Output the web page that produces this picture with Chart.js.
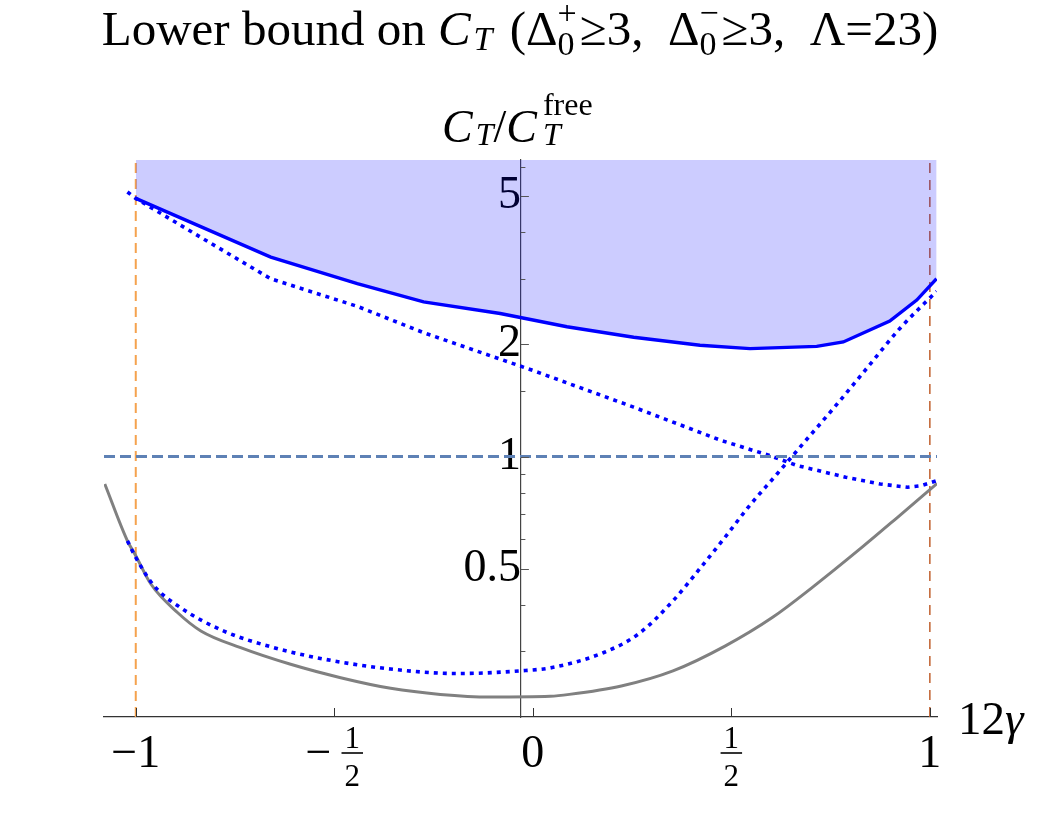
<!DOCTYPE html>
<html>
<head>
<meta charset="utf-8">
<title>Lower bound on C_T</title>
<script src="https://cdn.jsdelivr.net/npm/chart.js@4.4.1/dist/chart.umd.min.js"></script>
<style>
    html, body { margin: 0; padding: 0; background: #fff; }
    #wrap { width: 1042px; height: 823px; }
</style>
</head>
<body>
<div id="wrap"><canvas id="chart" width="1042" height="823"></canvas></div>
<script>
// --- Data (x = 12γ, y = C_T / C_T^free on a log axis) ---

// solid blue bound (region above it is shaded)
const upperX = [-1, -0.66, -0.442, -0.275, -0.082, 0.086, 0.254, 0.421, 0.547, 0.715, 0.782, 0.899, 0.967, 1.017];
const upperY = [4.93, 3.43, 2.91, 2.60, 2.42, 2.23, 2.09, 1.99, 1.948, 1.976, 2.03, 2.31, 2.63, 3.00];

// dotted blue, falling from top-left
const fallX = [-1.021, -1.0, -0.837, -0.66, -0.442, -0.275, 0.002, 0.254, 0.475, 0.597, 0.666, 0.788, 0.875, 0.944, 0.979, 1.018];
const fallY = [5.13, 4.93, 3.88, 3.00, 2.53, 2.15, 1.70, 1.357, 1.104, 1.006, 0.946, 0.880, 0.844, 0.827, 0.836, 0.862];

// dotted blue, U-shaped
const cupX = [-1.021, -1.0, -0.954, -0.887, -0.778, -0.652, -0.526, -0.358, -0.191, -0.031, 0.049, 0.179, 0.266, 0.353, 0.423, 0.484, 0.544, 0.614, 0.681, 0.757, 0.841, 0.925, 1.017];
const cupY = [0.594, 0.536, 0.450, 0.393, 0.340, 0.307, 0.286, 0.269, 0.2616, 0.266, 0.2715, 0.298, 0.334, 0.410, 0.504, 0.607, 0.734, 0.895, 1.084, 1.346, 1.724, 2.21, 2.777];

// gray solid curve
const grayX = [-1.078, -1.021, -1.0, -0.962, -0.895, -0.836, -0.736, -0.610, -0.484, -0.358, -0.233, -0.107, 0.044, 0.092, 0.223, 0.353, 0.484, 0.605, 0.701, 0.831, 0.918, 1.018];
const grayY = [0.844, 0.594, 0.542, 0.455, 0.3815, 0.3404, 0.307, 0.277, 0.255, 0.2388, 0.230, 0.2264, 0.2274, 0.230, 0.2423, 0.266, 0.310, 0.371, 0.443, 0.573, 0.686, 0.846];

const unitLevel = 1;          // dashed reference line C_T = C_T^free
const boundaryX = [-1, 1];    // dashed vertical lines at 12γ = ±1

const xMin = -1.08, xMax = 1.018;
const yMin = 0.2, yMax = 6.25;
const yAxisAt = -0.03;

const xTickValues = [-1, -0.5, 0, 0.5, 1];
const xTickLabels = ['−1', '−1/2', '0', '1/2', '1'];
const yMajorTicks = [0.5, 1, 2, 5];
const yMinorTicks = [0.3, 0.4, 0.6, 0.7, 0.8, 0.9, 1.5, 3, 4, 6];

const SERIF = "'Liberation Serif', 'Times New Roman', serif";

function pts(xs, ys) {
    return xs.map((x, i) => ({ x: x, y: ys[i] }));
}

// --- Text with sub/superscripts (title and axis labels) ---
function fontOf(italic, size) {
    return (italic ? 'italic ' : '') + size + 'px ' + SERIF;
}

const SCRIPT = 0.7;

function partWidth(ctx, p, size) {
    const small = Math.round(size * SCRIPT);
    ctx.font = fontOf(p.i, size);
    let w = ctx.measureText(p.t).width + (p.kern || 0);
    let ws = 0;
    if (p.sub) { ctx.font = fontOf(p.subI, small); ws = ctx.measureText(p.sub).width; }
    if (p.sup) { ctx.font = fontOf(false, small); ws = Math.max(ws, ctx.measureText(p.sup).width); }
    return w + ws + (p.after || 0);
}

function drawRich(ctx, parts, x, baseline, size, align) {
    const small = Math.round(size * SCRIPT);
    const total = parts.reduce((s, p) => s + partWidth(ctx, p, size), 0);
    let cx = align === 'center' ? x - total / 2 : x;
    ctx.fillStyle = '#000';
    ctx.textAlign = 'left';
    ctx.textBaseline = 'alphabetic';
    parts.forEach(p => {
        ctx.font = fontOf(p.i, size);
        ctx.fillText(p.t, cx, baseline);
        const sx = cx + ctx.measureText(p.t).width + (p.kern || 0);
        if (p.sub) {
            ctx.font = fontOf(p.subI, small);
            ctx.fillText(p.sub, sx, baseline + size * (p.sd || 0.1));
        }
        if (p.sup) {
            ctx.font = fontOf(false, small);
            ctx.fillText(p.sup, sx, baseline - size * (p.su || 0.45));
        }
        cx += partWidth(ctx, p, size);
    });
}

const titleParts = [
    { t: 'Lower bound on ' },
    { t: 'C', i: true, sub: 'T', subI: true, sd: 0.1, kern: 3, after: 5 },
    { t: ' (' },
    { t: 'Δ', sub: '0', sup: '+', sd: 0.2, su: 0.42, after: 3 },
    { t: '≥3,\u2002' },
    { t: 'Δ', sub: '0', sup: '−', sd: 0.2, su: 0.42, after: 3 },
    { t: '≥3,\u2002Λ=23)' }
];

const yLabelParts = [
    { t: 'C', i: true, sub: 'T', subI: true, sd: 0.07, kern: 3 },
    { t: '/' },
    { t: 'C', i: true, sub: 'T', subI: true, sup: 'free', sd: 0.07, su: 0.58, kern: 6 }
];

const decorPlugin = {
    id: 'decor',
    afterDraw(chart) {
        const ctx = chart.ctx;
        const xs = chart.scales.x;
        const ys = chart.scales.y;
        const axisPx = xs.getPixelForValue(yAxisAt);
        const bottom = chart.chartArea.bottom;

        ctx.save();
        // tick marks, drawn inward like the original
        ctx.strokeStyle = '#555';
        ctx.lineWidth = 1;
        yMajorTicks.concat(yMinorTicks).forEach(v => {
            const py = Math.round(ys.getPixelForValue(v)) + 0.5;
            const len = yMajorTicks.includes(v) ? 8 : 4.5;
            ctx.beginPath();
            ctx.moveTo(axisPx, py);
            ctx.lineTo(axisPx + len, py);
            ctx.stroke();
        });
        ctx.strokeStyle = '#333';
        xTickValues.forEach(v => {
            const px = Math.round(xs.getPixelForValue(v)) + 0.5;
            ctx.beginPath();
            ctx.moveTo(px, bottom);
            ctx.lineTo(px, bottom - 9);
            ctx.stroke();
        });

        // x tick labels (fractions drawn stacked)
        const big = 46, small = 31;
        const base = bottom + 50;
        ctx.fillStyle = '#000';
        ctx.textBaseline = 'alphabetic';
        xTickValues.forEach((v, i) => {
            const px = xs.getPixelForValue(v);
            const lab = xTickLabels[i];
            if (lab.indexOf('/') < 0) {
                ctx.font = fontOf(false, big);
                ctx.textAlign = 'center';
                ctx.fillText(lab, px, base);
                return;
            }
            const neg = lab[0] === '−';
            const [num, den] = (neg ? lab.slice(1) : lab).split('/');
            ctx.font = fontOf(false, big);
            const mw = neg ? ctx.measureText('−').width + 10 : 0;
            ctx.font = fontOf(false, small);
            const fw = Math.max(ctx.measureText(num).width, ctx.measureText(den).width) + 6;
            const left = px - (mw + fw) / 2;
            if (neg) {
                ctx.font = fontOf(false, big);
                ctx.textAlign = 'left';
                ctx.fillText('−', left, base);
            }
            const fc = left + mw + fw / 2;
            ctx.font = fontOf(false, small);
            ctx.textAlign = 'center';
            ctx.fillText(num, fc, base - 19);
            ctx.fillText(den, fc, base + 19);
            ctx.lineWidth = 1.6;
            ctx.strokeStyle = '#000';
            ctx.beginPath();
            ctx.moveTo(fc - fw / 2, base - 14);
            ctx.lineTo(fc + fw / 2, base - 14);
            ctx.stroke();
        });

        // x axis name
        drawRich(ctx, [{ t: '12' }, { t: 'γ', i: true }], chart.chartArea.right + 21, bottom + 17, 47, 'left');
        // y axis name and title
        drawRich(ctx, yLabelParts, 442, 142, 46, 'left');
        drawRich(ctx, titleParts, 520, 45, 49, 'center');
        ctx.restore();
    }
};

new Chart(document.getElementById('chart'), {
    type: 'line',
    data: {
        datasets: [
            {
                label: 'unit',
                data: pts([xMin, xMax], [unitLevel, unitLevel]),
                borderColor: '#5e81b5',
                borderWidth: 3,
                borderDash: [11, 5],
                pointRadius: 0,
                order: 1
            },
            {
                label: 'fall',
                data: pts(fallX, fallY),
                borderColor: '#0000ff',
                borderWidth: 3.6,
                borderDash: [4, 5],
                pointRadius: 0,
                tension: 0,
                order: 2
            },
            {
                label: 'cup',
                data: pts(cupX, cupY),
                borderColor: '#0000ff',
                borderWidth: 3.6,
                borderDash: [4, 5],
                pointRadius: 0,
                cubicInterpolationMode: 'monotone',
                order: 3
            },
            {
                label: 'upper',
                data: pts(upperX, upperY),
                borderColor: '#0000ff',
                backgroundColor: 'rgba(0, 0, 255, 0.2)',
                borderWidth: 3.4,
                fill: 'end',
                pointRadius: 0,
                tension: 0,
                order: 4
            },
            {
                label: 'gray',
                data: pts(grayX, grayY),
                borderColor: '#808080',
                borderWidth: 3,
                pointRadius: 0,
                cubicInterpolationMode: 'monotone',
                order: 5
            },
            {
                label: 'left edge',
                data: pts([boundaryX[0], boundaryX[0]], [yMin, yMax]),
                borderColor: '#f5a24e',
                borderWidth: 2,
                borderDash: [10, 6],
                pointRadius: 0,
                order: 6
            },
            {
                label: 'right edge',
                data: pts([boundaryX[1], boundaryX[1]], [yMin, yMax]),
                borderColor: '#c0602e',
                borderWidth: 1.5,
                borderDash: [10, 7],
                pointRadius: 0,
                order: 7
            }
        ]
    },
    options: {
        responsive: false,
        animation: false,
        events: [],
        layout: { padding: { left: 104, right: 105, top: 160, bottom: 106 } },
        plugins: {
            legend: { display: false },
            title: { display: false },
            tooltip: { enabled: false }
        },
        scales: {
            x: {
                type: 'linear',
                min: xMin,
                max: xMax,
                position: 'bottom',
                grid: { display: false, drawTicks: false },
                border: { display: true, color: '#333', width: 1.2 },
                ticks: { display: false }
            },
            y: {
                type: 'logarithmic',
                min: yMin,
                max: yMax,
                position: { x: yAxisAt },
                grid: { display: false, drawTicks: false },
                border: { display: true, color: '#444', width: 1.2 },
                afterBuildTicks: axis => {
                    axis.ticks = yMajorTicks.concat(yMinorTicks)
                        .sort((a, b) => a - b)
                        .map(v => ({ value: v }));
                },
                ticks: {
                    autoSkip: false,
                    padding: 9,
                    color: '#000',
                    font: { family: SERIF, size: 46 },
                    callback: v => yMajorTicks.includes(v) ? String(v) : ''
                }
            }
        }
    },
    plugins: [decorPlugin]
});
</script>
</body>
</html>
